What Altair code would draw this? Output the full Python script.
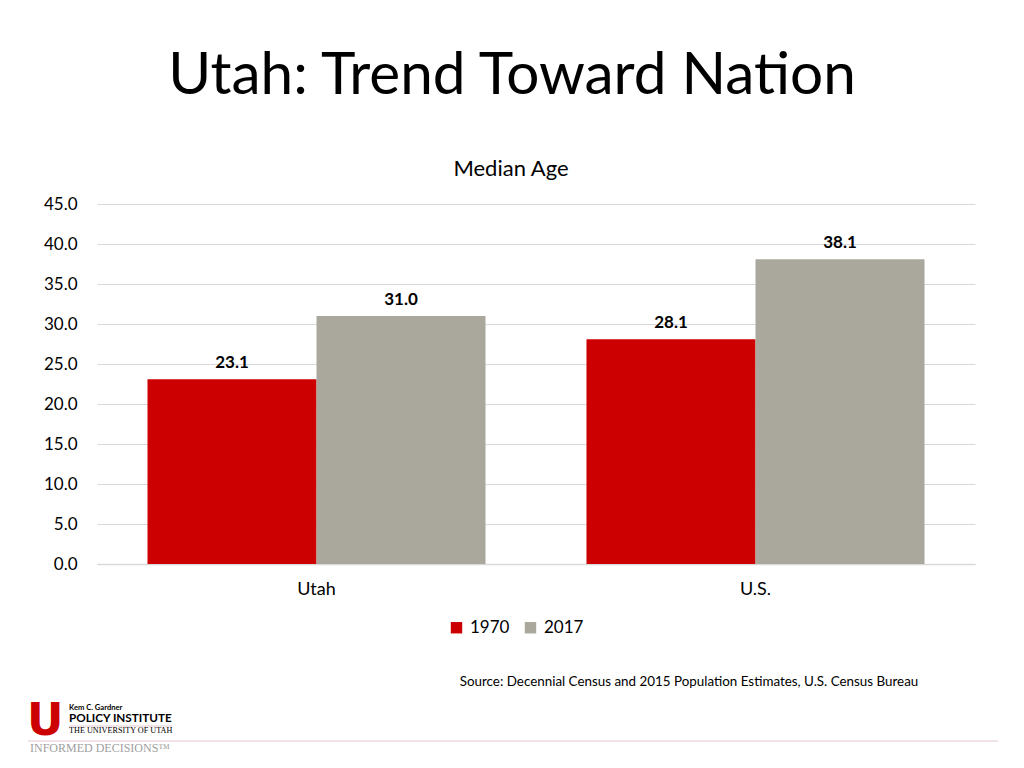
import altair as alt
import pandas as pd

regions = ["Utah", "Utah", "U.S.", "U.S."]
years = ["1970", "2017", "1970", "2017"]
ages = [23.1, 31.0, 28.1, 38.1]
y_ticks = [0, 5, 10, 15, 20, 25, 30, 35, 40, 45]

df = pd.DataFrame({"region": regions, "year": years, "age": ages})

FONT = "Lato"
W, H = 878, 360
OX, OY = 97, 204  # plot origin in page coords


def px(x):
    return x - OX


def py(y):
    return y - OY


x_enc = alt.X("region:N", sort=["Utah", "U.S."],
              scale=alt.Scale(paddingInner=0.23, paddingOuter=0.115),
              axis=alt.Axis(title=None, labelAngle=0, labelFontSize=18, labelFont=FONT,
                            labelColor="#000000", labelPadding=16, ticks=False,
                            domainColor="#D9D9D9", domainWidth=1.5, grid=False))
y_enc = alt.Y("age:Q", scale=alt.Scale(domain=[0, 45], nice=False),
              axis=alt.Axis(title=None, values=y_ticks, tickCount=10, format=".1f",
                            labelFontSize=17, labelFont=FONT, labelColor="#000000",
                            labelPadding=20, labelOverlap=False, labelFlush=False,
                            ticks=False, domain=False,
                            gridColor="#D9D9D9", gridWidth=1.2))
color_enc = alt.Color("year:N",
                      scale=alt.Scale(domain=["1970", "2017"], range=["#CC0000", "#AAA89C"]),
                      legend=alt.Legend(title=None, orient="none", direction="horizontal",
                                        legendX=px(448), legendY=py(619), symbolType="square",
                                        symbolSize=130, symbolStrokeWidth=0,
                                        labelFontSize=17, labelFont=FONT, labelColor="#000000",
                                        columnPadding=12, labelOffset=5))
xoff_enc = alt.XOffset("year:N", scale=alt.Scale(paddingInner=0, paddingOuter=0))

base = alt.Chart(df)
bars = base.mark_bar().encode(x=x_enc, y=y_enc, color=color_enc, xOffset=xoff_enc)
labels = base.mark_text(fontWeight="bold", fontSize=17, font=FONT, baseline="bottom",
                        dy=-7, color="#000000").encode(
    x=x_enc, y=y_enc, xOffset=xoff_enc,
    text=alt.Text("age:Q", format=".1f"),
)


def deco(text, x, y, size, color="#000000", weight="normal", align="center", font=FONT):
    kw = dict(text=text, fontSize=size, color=color, fontWeight=weight, align=align,
              baseline="alphabetic", font=font)
    return alt.Chart(alt.Data(values=[{}])).mark_text(**kw).encode(
        x=alt.value(px(x)), y=alt.value(py(y)))


title = deco("Utah: Trend Toward Nation", 512, 94, 58.5)
subtitle = deco("Median Age", 511, 176, 22)
source = deco("Source: Decennial Census and 2015 Population Estimates, U.S. Census Bureau",
              689, 686, 13.4)
logo_u = deco("U", 27, 735, 45, color="#CC0000", weight=900, align="left",
              font="DejaVu Sans")
kem = deco("Kem C. Gardner", 69, 710, 7.6, weight="bold", align="left")
policy = deco("POLICY INSTITUTE", 69, 722, 11.7, weight="bold", align="left")
univ = deco("THE UNIVERSITY OF UTAH", 69, 733, 8.2, align="left",
            font="Liberation Serif")
informed = deco("INFORMED DECISIONS\u2122", 30, 752, 12, color="#A0A0A0", align="left",
                font="Liberation Serif")
line1 = alt.Chart(alt.Data(values=[{}])).mark_rule(color="#E8C8CE", strokeWidth=1).encode(
    x=alt.value(px(69)), x2=alt.value(px(172)), y=alt.value(py(726)))
line2 = alt.Chart(alt.Data(values=[{}])).mark_rule(color="#E0C8CC", strokeWidth=1).encode(
    x=alt.value(px(28)), x2=alt.value(px(998)), y=alt.value(py(741)))

chart = alt.layer(bars, labels, title, subtitle, source, logo_u, kem, policy, univ,
                  line1, line2, informed).properties(
    width=W, height=H,
    background="#FFFFFF",
    autosize=alt.AutoSizeParams(type="none"),
    padding={"left": OX - 8, "top": OY - 8, "right": 30, "bottom": 200},
).configure_view(stroke=None)

chart.save("out.html", embed_options={"renderer": "svg", "actions": False})
